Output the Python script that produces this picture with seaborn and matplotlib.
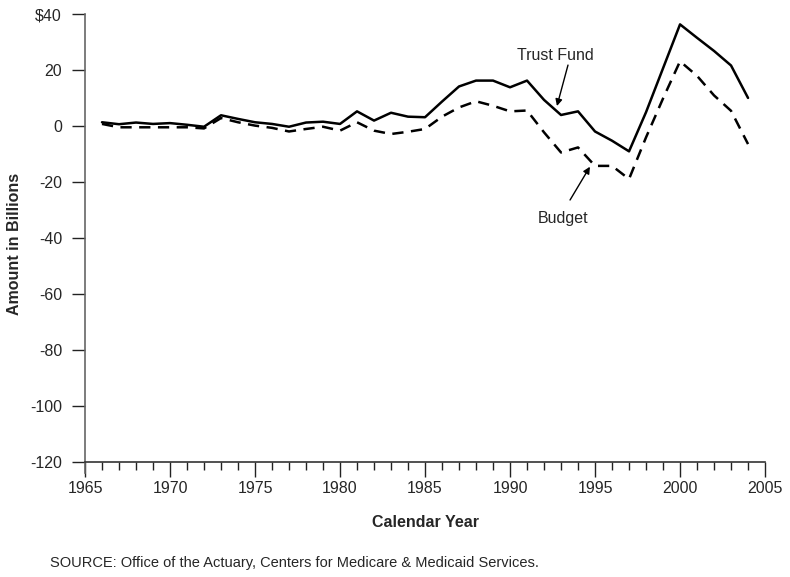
import numpy as np
import pandas as pd
import seaborn as sns
import matplotlib.pyplot as plt
from matplotlib.ticker import MultipleLocator, FuncFormatter

years = list(range(1966, 2005))
trust_fund = [1.4, 0.7, 1.3, 0.8, 1.1, 0.5, -0.2, 3.9, 2.6, 1.4,
              0.8, -0.2, 1.3, 1.6, 0.8, 5.3, 2.0, 4.8, 3.4, 3.2,
              8.8, 14.2, 16.3, 16.3, 13.9, 16.3, 9.4, 4.0, 5.3, -1.9,
              -5.2, -9.0, 5.0, 20.7, 36.4, 31.6, 26.9, 21.7, 10.1]
budget = [0.8, -0.4, -0.4, -0.4, -0.4, -0.4, -0.8, 2.9, 1.4, 0.2,
          -0.6, -1.9, -1.0, -0.2, -1.6, 1.4, -1.6, -2.8, -2.0, -1.0,
          3.4, 6.7, 8.9, 7.3, 5.3, 5.6, -2.2, -9.4, -7.6, -14.2,
          -14.2, -18.9, -4.0, 9.9, 23.2, 18.0, 11.0, 5.5, -6.4]
y_ticks = [-120, -100, -80, -60, -40, -20, 0, 20, 40]

df = pd.DataFrame({"year": years, "Trust Fund": trust_fund, "Budget": budget})

sns.set_style("ticks")
plt.rcParams['font.family'] = ['Liberation Sans', 'DejaVu Sans']

fig = plt.figure(figsize=(7.9, 5.77), dpi=100)
ax = fig.add_axes([0.1076, 0.1808, 0.8608, 0.7944])

sns.lineplot(data=df, x="year", y="Trust Fund", color="black", linewidth=1.8, ax=ax)
sns.lineplot(data=df, x="year", y="Budget", color="black", linewidth=1.8, ax=ax)
ax.lines[-1].set_dashes([4.5, 3])

ax.set_xlim(1965, 2005)
ax.set_ylim(-123.9, 40)
ax.set_yticks(y_ticks)
ax.yaxis.set_major_formatter(FuncFormatter(lambda v, p: "$40" if v == 40 else f"{int(v)}"))
ax.xaxis.set_major_locator(MultipleLocator(5))
ax.xaxis.set_minor_locator(MultipleLocator(1))

for s in ["top", "right"]:
    ax.spines[s].set_visible(False)
ax.spines["bottom"].set_position(("data", -120))
ax.spines["left"].set_color("#666666")
ax.spines["bottom"].set_color("#333333")
for s in ["left", "bottom"]:
    ax.spines[s].set_linewidth(1.2)

ax.tick_params(axis="y", which="major", labelsize=11.5, length=9.5, width=1,
               color="#222222", pad=7)
ax.tick_params(axis="x", which="major", labelsize=11.5, length=11, width=1,
               color="#222222", pad=2.5)
ax.tick_params(axis="x", which="minor", length=5.5, width=1, color="#222222")

ax.set_xlabel("Calendar Year", fontsize=11.5, fontweight="bold")
ax.set_ylabel("Amount in Billions", fontsize=11.5, fontweight="bold")
ax.xaxis.label.set_va("center")
ax.yaxis.label.set_va("center")
ax.xaxis.set_label_coords(0.5, -0.1097)
ax.yaxis.set_label_coords(-0.103, 0.5)

arrow = dict(arrowstyle="-|>", color="black", lw=1, shrinkA=0, shrinkB=0,
             mutation_scale=10)
ax.text(1992.68, 25.4, "Trust Fund", fontsize=11.5, ha="center", va="center")
ax.annotate("", xy=(1992.76, 7.2), xytext=(1993.41, 21.85), arrowprops=arrow)
ax.text(1993.1, -32.9, "Budget", fontsize=11.5, ha="center", va="center")
ax.annotate("", xy=(1994.7, -14.5), xytext=(1993.53, -26.4), arrowprops=arrow)

fig.text(0.063, 0.0243, "SOURCE: Office of the Actuary, Centers for Medicare & Medicaid Services.",
         fontsize=10.5, ha="left", va="center")

fig.savefig("out.png", dpi=100)
